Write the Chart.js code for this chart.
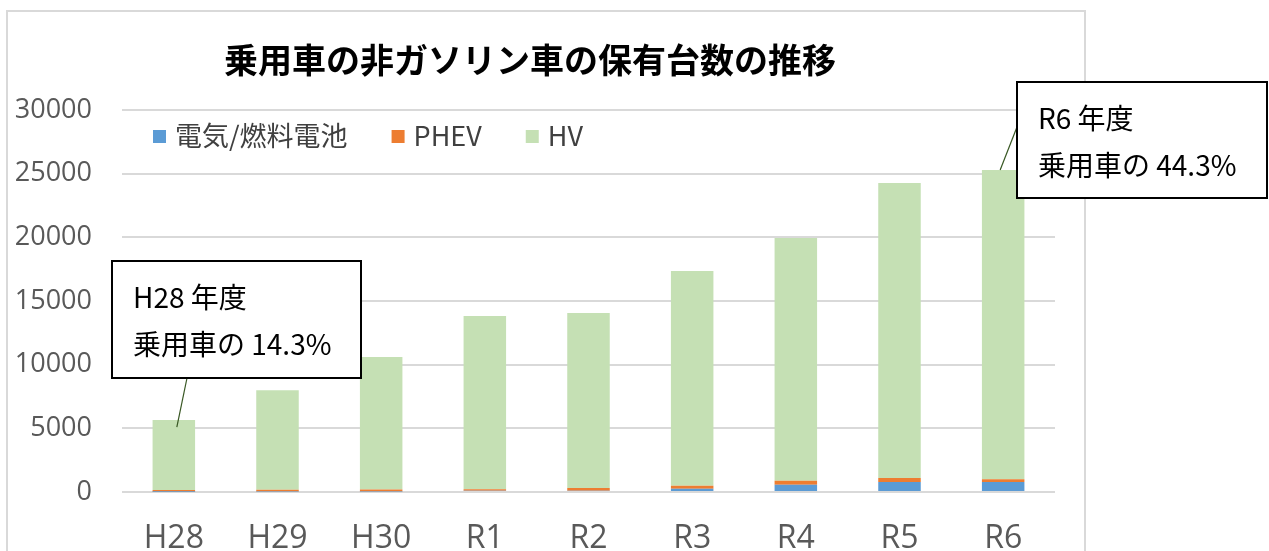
<!DOCTYPE html>
<html>
<head>
<meta charset="utf-8">
<script src="https://cdn.jsdelivr.net/npm/chart.js@4"></script>
<style>
  body { margin: 0; background: #fff; }
  canvas { display: block; }
</style>
</head>
<body>
<canvas id="my_Chart" width="1269" height="551"></canvas>
<script>
// 年度ごとの保有台数
var years = ["H28", "H29", "H30", "R1", "R2", "R3", "R4", "R5", "R6"];
var fcev = [20, 30, 40, 100, 100, 260, 575, 785, 785];
var phev = [130, 140, 150, 110, 220, 235, 315, 315, 210];
var hv = [5500, 7830, 10410, 13620, 13740, 16865, 19060, 23170, 24295];
var yTicks = [0, 5000, 10000, 15000, 20000, 25000, 30000];

var chartTitle = "乗用車の非ガソリン車の保有台数の推移";
var notes = [
  { idx: 0, lines: ["H28 年度", "乗用車の 14.3%"] },
  { idx: 8, lines: ["R6 年度", "乗用車の 44.3%"] }
];

function total(i){
	return fcev[i] + phev[i] + hv[i];
}

var decor = {
	id: "decor",
	beforeDraw: function(chart){
		var ctx = chart.ctx;
		ctx.save();
		ctx.fillStyle = "#fff";
		ctx.fillRect(0, 0, chart.width, chart.height);
		ctx.strokeStyle = "#D9D9D9";
		ctx.lineWidth = 2;
		ctx.strokeRect(7, 11, 1078, 560);
		ctx.restore();
	},
	afterDraw: function(chart){
		var ctx = chart.ctx;
		var xs = chart.scales.x, ys = chart.scales.y;
		ctx.save();

		// title
		ctx.fillStyle = "#000";
		ctx.font = "bold 34px 'Noto Sans CJK JP'";
		ctx.textAlign = "center";
		ctx.textBaseline = "middle";
		ctx.fillText(chartTitle, 530, 60);

		// legend inside plot
		ctx.font = "27px 'Noto Sans CJK JP'";
		ctx.textAlign = "left";
		ctx.textBaseline = "middle";
		var lx = 153;
		chart.data.datasets.forEach(function(ds){
			ctx.fillStyle = ds.backgroundColor;
			ctx.fillRect(lx, 130, 13, 13);
			ctx.fillStyle = "#404040";
			ctx.fillText(ds.label, lx + 22, 136);
			lx = lx + 22 + ctx.measureText(ds.label).width + 44;
		});

		// callouts
		var boxes = [
			{ x: 112, y: 261, w: 249, h: 117, ax: 3, ay: 7, ex: 187, ey: 378 },
			{ x: 1017, y: 82, w: 250, h: 116, ax: -3, ay: 0, ex: 1017, ey: 127 }
		];
		notes.forEach(function(n, k){
			var b = boxes[k];
			var px = xs.getPixelForValue(n.idx) + b.ax;
			var py = ys.getPixelForValue(total(n.idx)) + b.ay;
			ctx.strokeStyle = "#385723";
			ctx.lineWidth = 1.2;
			ctx.beginPath();
			ctx.moveTo(px, py);
			ctx.lineTo(b.ex, b.ey);
			ctx.stroke();

			ctx.fillStyle = "#fff";
			ctx.fillRect(b.x, b.y, b.w, b.h);
			ctx.strokeStyle = "#000";
			ctx.lineWidth = 2;
			ctx.strokeRect(b.x, b.y, b.w, b.h);

			ctx.fillStyle = "#000";
			ctx.font = "28px 'Noto Sans CJK JP'";
			ctx.textAlign = "left";
			ctx.textBaseline = "alphabetic";
			ctx.fillText(n.lines[0], b.x + 21, b.y + 47);
			ctx.fillText(n.lines[1], b.x + 21, b.y + 94);
		});
		ctx.restore();
	}
};

var myData = {
	type: "bar",
	data: {
		labels: years,
		datasets: [
			{ label: "電気/燃料電池", data: fcev, backgroundColor: "#5B9BD5" },
			{ label: "PHEV", data: phev, backgroundColor: "#ED7D31" },
			{ label: "HV", data: hv, backgroundColor: "#C5E0B4" }
		]
	},
	options: {
		responsive: false,
		animation: false,
		devicePixelRatio: 1,
		layout: { padding: { left: 0, top: 110, right: 214, bottom: 0 } },
		datasets: { bar: { categoryPercentage: 1, barPercentage: 0.41 } },
		plugins: { legend: { display: false }, title: { display: false }, tooltip: { enabled: false } },
		scales: {
			x: {
				stacked: true,
				grid: { display: false },
				border: { display: false },
				ticks: { color: "#595959", font: { family: "'Open Sans'", size: 32 }, padding: 20 },
				afterFit: function(s){ s.height = 59; }
			},
			y: {
				stacked: true,
				min: 0,
				max: 30000,
				afterBuildTicks: function(s){ s.ticks = yTicks.map(function(v){ return { value: v }; }); },
				grid: { color: "#D9D9D9", lineWidth: 2, drawTicks: false },
				border: { display: false },
				ticks: {
					color: "#595959",
					font: { family: "'Open Sans'", size: 27 },
					padding: 30,
					callback: function(v){ return String(v); }
				},
				afterFit: function(s){ s.width = 122; }
			}
		}
	},
	plugins: [decor]
};

new Chart(document.getElementById("my_Chart"), myData);
</script>
</body>
</html>
